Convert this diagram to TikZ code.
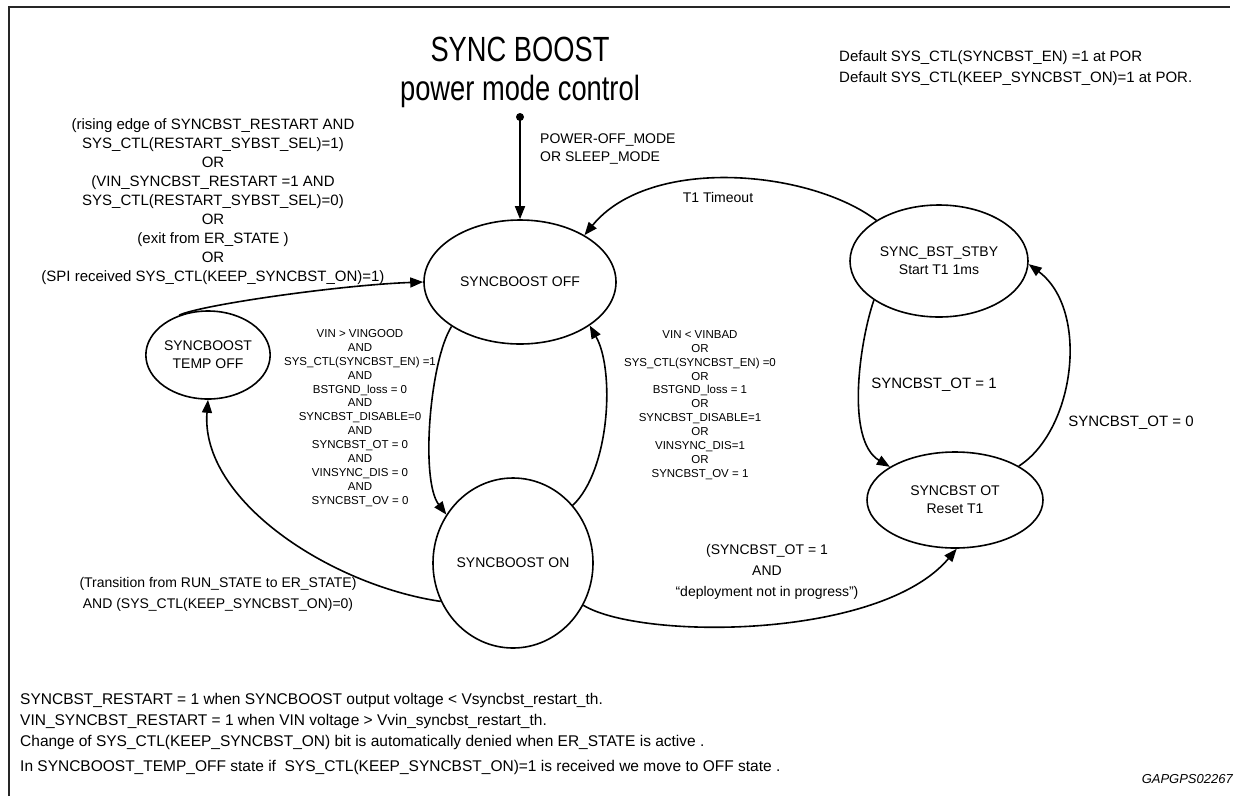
\documentclass[tikz,border=0pt]{standalone}
\usepackage{fontspec}
\setmainfont{Liberation Sans}
\usetikzlibrary{shapes.geometric,arrows.meta}
\begin{document}
\begin{tikzpicture}[x=1pt,y=-1pt,
  state/.style={draw,line width=1.6pt,ellipse,inner sep=0pt,font=\fontsize{14}{18}\selectfont,align=center},
  tr/.style={line width=1.6pt,-{Triangle[length=13pt,width=10pt]}},
  lbl/.style={font=\fontsize{15}{19}\selectfont,align=center,inner sep=0pt},
  cond/.style={font=\fontsize{11.5}{13.9}\selectfont,align=center,inner sep=0pt},
  note/.style={font=\fontsize{15.5}{19}\selectfont,anchor=west,inner sep=0pt}]
\useasboundingbox (0,0) rectangle (1234,796);
\draw[line width=1.3pt,black!85] (9,796) -- (9,7) -- (1230,7);

% title
\node[font=\fontsize{35}{39}\selectfont,align=center,inner sep=0pt] (title) at (520,72) {\scalebox{0.78}[1]{SYNC BOOST}\\\scalebox{0.78}[1]{power mode control}};

% defaults
\node[font=\fontsize{15}{21}\selectfont,align=left,anchor=west,inner sep=0pt] (defaults) at (839,68) {Default SYS\_CTL(SYNCBST\_EN) =1 at POR\\Default SYS\_CTL(KEEP\_SYNCBST\_ON)=1 at POR.};

% states
\node[state,minimum width=192pt,minimum height=124pt] (off) at (520,282) {SYNCBOOST OFF};
\node[state,minimum width=160pt,minimum height=170pt] (on) at (513,563) {SYNCBOOST ON};
\node[state,minimum width=124pt,minimum height=88pt] (temp) at (208,355) {SYNCBOOST\\TEMP OFF};
\node[state,minimum width=178pt,minimum height=112pt] (stby) at (939,261) {SYNC\_BST\_STBY\\Start T1 1ms};
\node[state,minimum width=176pt,minimum height=96pt] (ot) at (955,500) {SYNCBST OT\\Reset T1};

% initial
\fill (520,117) circle (4pt) coordinate (init);
\draw[tr] (init) -- (off.north);
\node[font=\fontsize{14}{18}\selectfont,align=left,anchor=west,inner sep=0pt] (pwr) at (540,149) {POWER-OFF\_MODE\\OR SLEEP\_MODE};

% STBY -> OFF
\draw[tr] (stby.147) .. controls (810,170) and (650,155) .. (off.36);
\node[lbl,font=\fontsize{14}{18}\selectfont] (t1) at (718,197) {T1 Timeout};

% STBY -> OT
\draw[tr] (stby.211) .. controls (860,340) and (845,440) .. (ot.153);
\node[lbl] (ot1) at (934,385) {SYNCBST\_OT = 1};

% OT -> STBY
\draw[tr] (ot.28) .. controls (1075,430) and (1090,310) .. (stby.-2);
\node[lbl] (ot0) at (1131,423) {SYNCBST\_OT = 0};

% OFF -> ON
\draw[tr] (off.213) .. controls (430,360) and (420,480) .. (on.144);
\node[cond] (good) at (360,418) {VIN > VINGOOD\\AND\\SYS\_CTL(SYNCBST\_EN) =1\\AND\\BSTGND\_loss = 0\\AND\\SYNCBST\_DISABLE=0\\AND\\SYNCBST\_OT = 0\\AND\\VINSYNC\_DIS = 0\\AND\\SYNCBST\_OV = 0};

% ON -> OFF
\draw[tr] (on.44) .. controls (610,470) and (615,370) .. (off.-32);
\node[cond] (bad) at (700,405) {VIN < VINBAD\\OR\\SYS\_CTL(SYNCBST\_EN) =0\\OR\\BSTGND\_loss = 1\\OR\\SYNCBST\_DISABLE=1\\OR\\VINSYNC\_DIS=1\\OR\\SYNCBST\_OV = 1};

% TEMP -> OFF
\draw[tr] (temp.126) .. controls (200,305) and (340,285) .. (off.180);
\node[lbl] (restart) at (213,202) {(rising edge of SYNCBST\_RESTART AND\\SYS\_CTL(RESTART\_SYBST\_SEL)=1)\\OR\\(VIN\_SYNCBST\_RESTART =1 AND\\SYS\_CTL(RESTART\_SYBST\_SEL)=0)\\OR\\(exit from ER\_STATE )\\OR\\(SPI received SYS\_CTL(KEEP\_SYNCBST\_ON)=1)};

% ON -> TEMP
\draw[tr] (on.208) .. controls (330,585) and (200,500) .. (temp.south);
\node[lbl,font=\fontsize{14}{21}\selectfont] (er) at (218,594) {(Transition from RUN\_STATE to ER\_STATE)\\AND (SYS\_CTL(KEEP\_SYNCBST\_ON)=0)};

% ON -> OT
\draw[tr] (on.329) .. controls (640,640) and (880,640) .. (ot.272);
\node[lbl,font=\fontsize{14}{21}\selectfont] (dep) at (767,572) {(SYNCBST\_OT = 1\\AND\\“deployment not in progress”)};

% notes
\node[note] (n1) at (20,700) {SYNCBST\_RESTART = 1 when SYNCBOOST output voltage < Vsyncbst\_restart\_th.};
\node[note] (n2) at (20,721) {VIN\_SYNCBST\_RESTART = 1 when VIN voltage > Vvin\_syncbst\_restart\_th.};
\node[note] (n3) at (20,742) {Change of SYS\_CTL(KEEP\_SYNCBST\_ON) bit is automatically denied when ER\_STATE is active .};
\node[note] (n4) at (20,767) {In SYNCBOOST\_TEMP\_OFF state if \ SYS\_CTL(KEEP\_SYNCBST\_ON)=1 is received we move to OFF state .};
\node[font=\fontsize{13}{15}\selectfont\itshape,anchor=east,inner sep=0pt] (code) at (1233,779) {GAPGPS02267};
\end{tikzpicture}
\end{document}
